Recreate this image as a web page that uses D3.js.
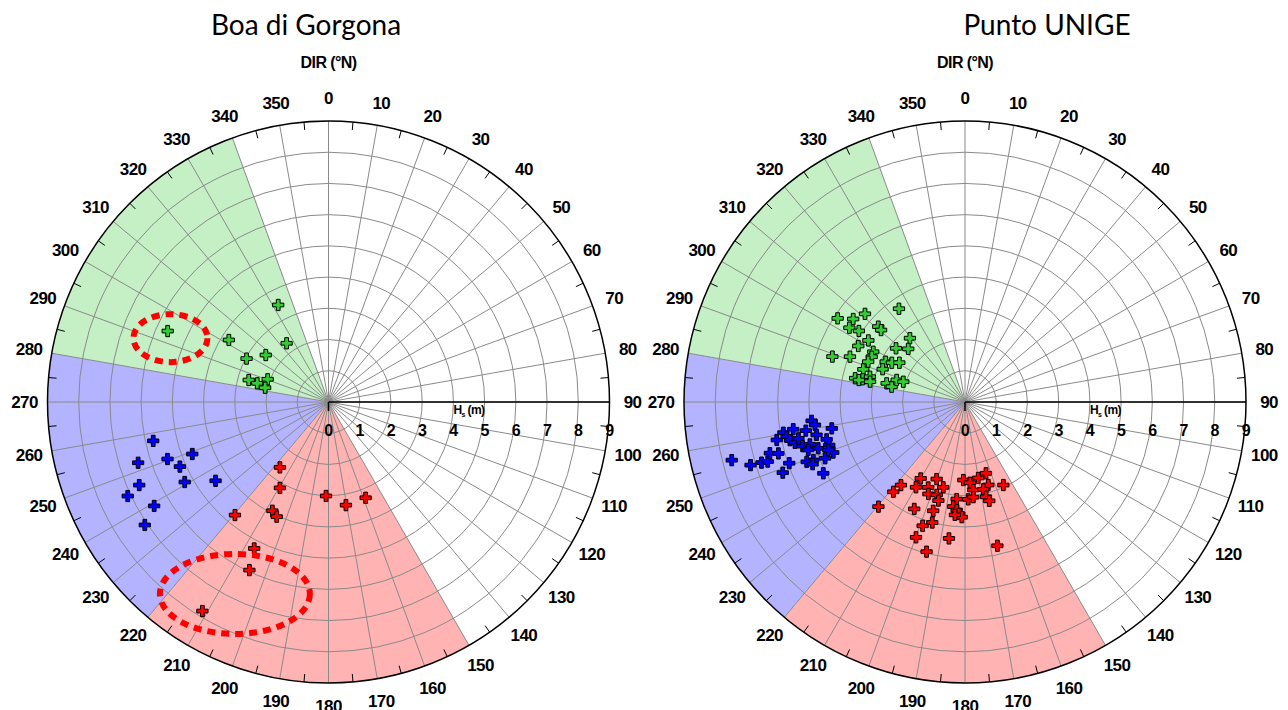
<!DOCTYPE html>
<html>
<head>
<meta charset="utf-8">
<script src="https://cdn.jsdelivr.net/npm/d3@7"></script>
<style>
  body { margin: 0; background: #fff; }
  .title { font-family: Lato, "Open Sans", sans-serif; font-size: 28px; }
  .lbl { font-family: "Liberation Sans Narrow", "Liberation Sans", Arial, sans-serif; font-weight: bold; letter-spacing: -0.6px; }
</style>
</head>
<body>
<script>
// direction bins (deg) and Hs rings (m)
var dirTicks = d3.range(0, 360, 10);
var hsTicks = [0, 1, 2, 3, 4, 5, 6, 7, 8, 9];

// sectors [start, end, colour]
var sectors = [
  [280, 340, "#c5efc5"],
  [220, 280, "#b3b3ff"],
  [150, 220, "#ffb3b3"]
];

// Boa di Gorgona: [direction °N, Hs m]
var gorgonaGreen = [[332.6,3.50],[293.8,5.63],[301.9,3.76],[324.5,2.31],[306.8,2.51],
  [297.9,2.97],[285.4,2.65],[284.7,2.36],[290.5,2.08],[282.7,2.08]];
var gorgonaBlue = [[257.5,5.75],[252.3,6.40],[250.5,5.47],[249.1,4.67],[246.5,5.19],
  [246.3,6.62],[240.9,5.27],[235.1,4.41],[244.9,7.10],[239.2,6.50],[236.2,7.08]];
var gorgonaRed = [[216.6,2.61],[209.5,3.16],[181.5,3.01],[170.4,3.35],[158.8,3.29],
  [207.3,3.92],[204.3,4.03],[219.6,4.70],[206.9,5.26],[205.2,5.95],[211.1,7.82]];

// Punto UNIGE
var unigeGreen = [[324.7,3.66],[303.3,4.88],[306.6,4.46],[311.4,4.27],[302.7,4.40],
  [303.8,4.09],[311.0,3.68],[310.6,3.54],[302.5,3.67],[319.2,2.70],[297.7,3.86],
  [313.1,2.49],[307.9,2.80],[288.9,4.49],[291.5,3.96],[298.7,3.35],[295.9,3.32],
  [292.6,3.36],[296.9,2.85],[298.2,2.66],[300.9,2.45],[287.8,3.42],[291.7,2.84],
  [282.2,3.60],[282.5,3.36],[284.9,3.15],[282.1,3.11],[283.4,2.58],[281.8,2.40],
  [287.9,2.30],[288.2,2.08],[281.7,3.47]];
var unigeBlue = [[256.0,7.70],[253.6,7.16],[253.4,6.80],[253.2,6.60],[255.3,6.46],
  [254.6,6.20],[258.6,6.15],[260.4,5.90],[259.0,5.82],[261.0,5.57],[257.7,5.74],
  [256.5,5.60],[257.7,5.46],[254.8,5.39],[254.7,5.15],[259.8,5.18],[263.0,4.95],
  [261.3,4.86],[257.5,4.87],[258.8,4.35],[254.9,4.59],[252.4,4.56],[252.5,4.93],
  [249.0,4.52],[248.1,4.83],[249.1,5.20],[249.3,5.42],[247.8,5.27],[250.8,5.96],
  [248.8,6.26],[243.3,5.08],[250.7,4.64],[253.0,5.25]];
var unigeRed = [[219.6,4.35],[218.6,3.68],[217.6,3.36],[209.9,3.15],[210.1,2.83],
  [203.3,2.98],[200.2,2.63],[194.3,2.82],[201.7,3.17],[196.9,3.11],[195.1,3.27],
  [205.4,3.79],[196.3,3.63],[195.2,4.00],[198.9,4.19],[199.9,4.61],[194.4,4.95],
  [186.7,4.40],[184.9,3.12],[186.4,3.37],[184.4,3.47],[182.9,3.59],[181.6,3.69],
  [181.2,2.50],[176.5,2.59],[174.6,2.83],[178.1,3.12],[175.0,3.06],[170.1,2.47],
  [163.6,2.38],[164.3,2.76],[168.2,2.86],[167.5,3.11],[166.2,3.26],[155.2,2.93],
  [167.3,4.72],[185.1,3.63]];

// annotation ellipses on the Gorgona chart: [direction, Hs, rx, ry]
var gorgonaEllipses = [[292, 5.46, 37, 24], [206, 6.84, 75, 40]];

var W = 1288, H = 710, R = 281;

var svg = d3.select("body").append("svg")
    .attr("width", W)
    .attr("height", H);

var r = d3.scaleLinear().domain([0, 9]).range([0, R]);
var ang = d3.scaleLinear().domain([0, 360]).range([0, 2 * Math.PI]);

function px(d, h) { return r(h) * Math.sin(ang(d)); }
function py(d, h) { return -r(h) * Math.cos(ang(d)); }

function drawChart(cx, title, titleX, series, ellipses) {
  svg.append("text")
      .attr("class", "title")
      .attr("x", titleX)
      .attr("y", 35)
      .attr("text-anchor", "middle")
      .text(title);

  var g = svg.append("g")
      .attr("transform", "translate(" + cx + ",402)");

  g.append("text")
      .attr("class", "lbl")
      .attr("y", -340)
      .attr("dy", "0.35em")
      .attr("text-anchor", "middle")
      .style("font-size", "16px")
      .text("DIR (°N)");

  var arc = d3.arc().innerRadius(0).outerRadius(R);
  g.selectAll(".sector")
      .data(sectors)
      .enter().append("path")
      .attr("class", "sector")
      .attr("d", function (d) {
        return arc({startAngle: ang(d[0]), endAngle: ang(d[1])});
      })
      .attr("fill", function (d) { return d[2]; });

  // rings
  g.selectAll(".ring")
      .data(hsTicks.slice(1, -1))
      .enter().append("circle")
      .attr("r", function (d) { return r(d); })
      .attr("fill", "none")
      .attr("stroke", "#8a8a8a")
      .attr("stroke-width", 1);

  // spokes
  g.selectAll(".spoke")
      .data(dirTicks)
      .enter().append("line")
      .attr("x1", 0).attr("y1", 0)
      .attr("x2", function (d) { return px(d, 9); })
      .attr("y2", function (d) { return py(d, 9); })
      .attr("stroke", "#8a8a8a")
      .attr("stroke-width", 1);

  // outer circle
  g.append("circle")
      .attr("r", R)
      .attr("fill", "none")
      .attr("stroke", "#000")
      .attr("stroke-width", 1.5);

  // minor ticks at 5 deg
  g.selectAll(".minor")
      .data(dirTicks.map(function (d) { return d + 5; }))
      .enter().append("line")
      .attr("x1", function (d) { return px(d, 9); })
      .attr("y1", function (d) { return py(d, 9); })
      .attr("x2", function (d) { return px(d, 9) * (R - 8) / R; })
      .attr("y2", function (d) { return py(d, 9) * (R - 8) / R; })
      .attr("stroke", "#000")
      .attr("stroke-width", 1);

  // direction labels
  g.selectAll(".dirlbl")
      .data(dirTicks)
      .enter().append("text")
      .attr("class", "lbl")
      .attr("x", function (d) { return px(d, 9) * 304 / R; })
      .attr("y", function (d) { return py(d, 9) * 304 / R; })
      .attr("dy", "0.35em")
      .attr("text-anchor", "middle")
      .style("font-size", "17px")
      .text(function (d) { return d; });

  // Hs axis
  g.append("line")
      .attr("x1", 0).attr("y1", 0)
      .attr("x2", r(9)).attr("y2", 0)
      .attr("stroke", "#000")
      .attr("stroke-width", 1.5);
  g.append("line")
      .attr("x1", 0).attr("y1", 0)
      .attr("x2", 0).attr("y2", 9)
      .attr("stroke", "#000")
      .attr("stroke-width", 1.5);
  g.selectAll(".hslbl")
      .data(hsTicks)
      .enter().append("text")
      .attr("class", "lbl")
      .attr("x", function (d) { return r(d); })
      .attr("y", 28)
      .attr("dy", "0.35em")
      .attr("text-anchor", "middle")
      .style("font-size", "16px")
      .text(function (d) { return d; });
  var hs = g.append("text")
      .attr("class", "lbl")
      .attr("x", r(4.5))
      .attr("y", 8)
      .attr("dy", "0.35em")
      .attr("text-anchor", "middle")
      .style("font-size", "12px");
  hs.append("tspan").text("H");
  hs.append("tspan").attr("dy", "3").style("font-size", "7px").text("s");
  hs.append("tspan").attr("dy", "-3").text(" (m)");

  // points
  var sym = d3.symbol().type(d3.symbolCross).size(70);
  series.forEach(function (s) {
    g.selectAll(null)
        .data(s.values)
        .enter().append("path")
        .attr("d", sym)
        .attr("transform", function (d) {
          return "translate(" + px(d[0], d[1]) + "," + py(d[0], d[1]) + ")";
        })
        .attr("fill", s.color)
        .attr("stroke", "#000")
        .attr("stroke-width", 1);
  });

  // annotations
  g.selectAll(".ell")
      .data(ellipses)
      .enter().append("ellipse")
      .attr("cx", function (d) { return px(d[0], d[1]); })
      .attr("cy", function (d) { return py(d[0], d[1]); })
      .attr("rx", function (d) { return d[2]; })
      .attr("ry", function (d) { return d[3]; })
      .attr("fill", "none")
      .attr("stroke", "#ff0000")
      .attr("stroke-width", 6)
      .attr("stroke-dasharray", "8,6");
}

drawChart(328.5, "Boa di Gorgona", 306, [
  {values: gorgonaGreen, color: "#33cc33"},
  {values: gorgonaBlue, color: "#0000ff"},
  {values: gorgonaRed, color: "#ff0000"}
], gorgonaEllipses);

drawChart(965, "Punto UNIGE", 1047, [
  {values: unigeGreen, color: "#33cc33"},
  {values: unigeBlue, color: "#0000ff"},
  {values: unigeRed, color: "#ff0000"}
], []);
</script>
</body>
</html>
